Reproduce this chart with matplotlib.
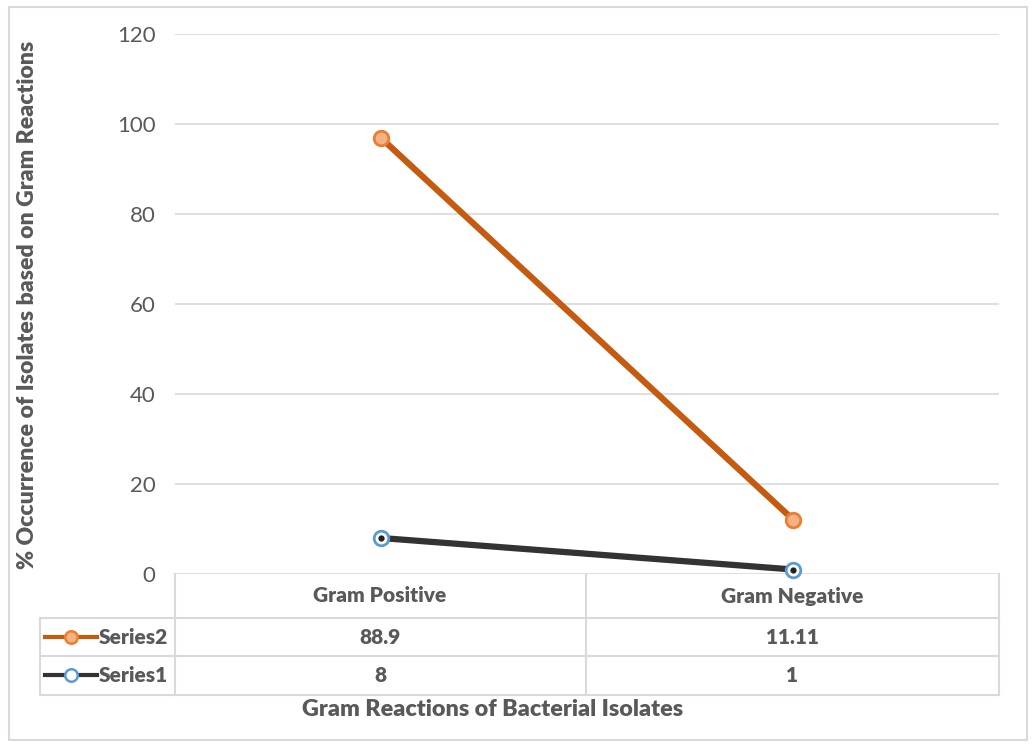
import matplotlib
matplotlib.use("Agg")
import matplotlib.pyplot as plt
from matplotlib.lines import Line2D
from matplotlib.patches import Rectangle
import numpy as np

categories = ["Gram Positive", "Gram Negative"]
series1 = [8, 1]
series2 = [88.9, 11.11]
series1_labels = ["8", "1"]
series2_labels = ["88.9", "11.11"]
yticks = [0, 20, 40, 60, 80, 100, 120]

W, H = 1036, 747
plt.rcParams['font.family'] = ['Lato', 'DejaVu Sans']
fig = plt.figure(figsize=(W / 100, H / 100), dpi=100)

def fx(px):
    return px / W

def fy(py):
    return 1 - py / H

TXT = '#595959'
GRID = '#D9D9D9'
ORANGE = '#C55A11'
ORANGE_FACE = '#F4B183'
ORANGE_EDGE = '#ED7D31'
DARK = '#333333'
BLUE = '#5B9BD5'
BW = 'heavy'

# outer border
fig.add_artist(Rectangle((fx(9), fy(740)), fx(1027) - fx(9), fy(7) - fy(740),
                         transform=fig.transFigure, fill=False, edgecolor=GRID, lw=1.5))

ax = fig.add_axes([fx(175), fy(574), fx(999) - fx(175), fy(34) - fy(574)])
x = np.arange(len(categories))
ax.set_xlim(-0.5, len(categories) - 0.5)
ax.set_ylim(0, 120)
ax.set_yticks(yticks)
ax.set_yticklabels([str(t) for t in yticks], fontsize=16, color=TXT)
ax.tick_params(axis='y', length=0, pad=14)
ax.set_xticks([])
ax.grid(axis='y', color=GRID, lw=1.2)
ax.set_axisbelow(True)
for s in ax.spines.values():
    s.set_visible(False)

stack2 = np.array(series1) + np.array(series2)
ax.plot(x, stack2, color=ORANGE, lw=4.5, solid_capstyle='butt', zorder=3, clip_on=False)
ax.plot(x, stack2, ls='none', marker='o', ms=10.5,
        mfc=ORANGE_FACE, mec=ORANGE_EDGE, mew=2, zorder=4, clip_on=False)
ax.plot(x, series1, color=DARK, lw=4.5, solid_capstyle='butt', zorder=3, clip_on=False)
ax.plot(x, series1, ls='none', marker='o', ms=10.5,
        mfc='white', mec=BLUE, mew=2, zorder=4, clip_on=False)
ax.plot(x, series1, ls='none', marker='o', ms=4.5, mfc='#222222', mec='none', zorder=5,
        clip_on=False)

fig.text(fx(28), fy(305), "% Occurrence of Isolates based on Gram Reactions", rotation=90,
         fontsize=16.6, fontweight=BW, color=TXT, ha='center', va='center')

# data table lines
def hline(x0, x1, y):
    fig.add_artist(Line2D([fx(x0), fx(x1)], [fy(y), fy(y)], color=GRID, lw=1.5,
                          transform=fig.transFigure))

def vline(xp, y0, y1):
    fig.add_artist(Line2D([fx(xp), fx(xp)], [fy(y0), fy(y1)], color=GRID, lw=1.5,
                          transform=fig.transFigure))

hline(40, 999, 618)
hline(40, 999, 656)
hline(40, 999, 695)
vline(40, 618, 695)
vline(175, 574, 695)
vline(586, 574, 695)
vline(999, 574, 695)

col_centers = [380, 792]
for i, c in enumerate(categories):
    fig.text(fx(col_centers[i]), fy(596), c, fontsize=15, fontweight=BW, color=TXT,
             ha='center', va='center')
    fig.text(fx(col_centers[i]), fy(637), series2_labels[i], fontsize=15, fontweight=BW,
             color=TXT, ha='center', va='center')
    fig.text(fx(col_centers[i]), fy(675), series1_labels[i], fontsize=15, fontweight=BW,
             color=TXT, ha='center', va='center')

# legend keys
for yy, col, face, edge, name in [(637, ORANGE, ORANGE_FACE, ORANGE_EDGE, "Series2"),
                                   (675, DARK, 'white', BLUE, "Series1")]:
    fig.add_artist(Line2D([fx(45), fx(97)], [fy(yy), fy(yy)], color=col, lw=3,
                          transform=fig.transFigure))
    fig.add_artist(Line2D([fx(71)], [fy(yy)], ls='none', marker='o', ms=9, mfc=face,
                          mec=edge, mew=1.8, transform=fig.transFigure))
    fig.text(fx(99), fy(yy), name, fontsize=15, fontweight=BW, color=TXT,
             ha='left', va='center')

fig.text(fx(493), fy(710), "Gram Reactions of Bacterial Isolates", fontsize=16.8,
         fontweight=BW, color=TXT, ha='center', va='center')

fig.savefig("out.png", dpi=100)
